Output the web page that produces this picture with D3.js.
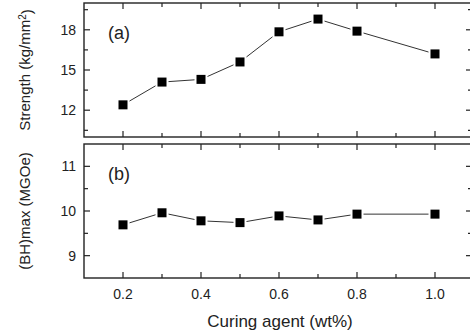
<!DOCTYPE html>
<html>
<head>
<meta charset="utf-8">
<script src="https://cdn.jsdelivr.net/npm/d3@7"></script>
<style>
  body { margin: 0; background: #fff; }
  svg { display: block; }
  text { font-family: "Liberation Sans", Arial, sans-serif; fill: #222; }
</style>
</head>
<body>
<svg id="chart" width="470" height="334"></svg>
<script>
// curing agent content (wt%)
let agent = [0.2, 0.3, 0.4, 0.5, 0.6, 0.7, 0.8, 1.0]
// panel (a): strength, kg/mm2
let strength = [12.4, 14.1, 14.3, 15.6, 17.85, 18.8, 17.9, 16.2]
// panel (b): (BH)max, MGOe
let bhmax = [9.69, 9.96, 9.78, 9.74, 9.89, 9.8, 9.93, 9.93]

let xTicks = [0.2, 0.3, 0.4, 0.5, 0.6, 0.7, 0.8, 0.9, 1.0]
let xLabels = [0.2, 0.4, 0.6, 0.8, 1.0]
let aTicks = [10.5, 12, 13.5, 15, 16.5, 18, 19.5]
let aLabels = [12, 15, 18]
let bTicks = [9, 9.5, 10, 10.5, 11]
let bLabels = [9, 10, 11]

const svg = d3.select("#chart")
const left = 84, right = 474

let x = d3.scaleLinear().domain([0.1, 1.1]).range([left, right])
let ya = d3.scaleLinear().domain([10, 20]).range([137, 3])
let yb = d3.scaleLinear().domain([8.5, 11.5]).range([278, 144])

function panel(y, values, ticks, labels, tag) {
  let [y0, y1] = y.range()
  let g = svg.append("g")

  // frame
  g.append("rect")
    .attr("x", left).attr("y", y1)
    .attr("width", right - left).attr("height", y0 - y1)
    .attr("fill", "none").attr("stroke", "#222").attr("stroke-width", 1.4)

  // x ticks top and bottom, pointing in
  xTicks.forEach(t => {
    let len = xLabels.includes(t) ? 6 : 4
    g.append("line").attr("x1", x(t)).attr("x2", x(t))
      .attr("y1", y0).attr("y2", y0 - len)
      .attr("stroke", "#222").attr("stroke-width", 1.2)
    g.append("line").attr("x1", x(t)).attr("x2", x(t))
      .attr("y1", y1).attr("y2", y1 + len)
      .attr("stroke", "#222").attr("stroke-width", 1.2)
  })

  // y ticks left and right, pointing in
  ticks.forEach(t => {
    let len = labels.includes(t) ? 6 : 4
    g.append("line").attr("x1", left).attr("x2", left + len)
      .attr("y1", y(t)).attr("y2", y(t))
      .attr("stroke", "#222").attr("stroke-width", 1.2)
    g.append("line").attr("x1", right).attr("x2", right - len - 2)
      .attr("y1", y(t)).attr("y2", y(t))
      .attr("stroke", "#222").attr("stroke-width", 1.2)
  })

  g.selectAll(".ylab").data(labels).enter()
    .append("text")
    .attr("x", left - 8).attr("y", d => y(d))
    .attr("dy", "0.36em")
    .attr("text-anchor", "end")
    .style("font-size", "14px")
    .text(d => d)

  let line = d3.line().x((d, i) => x(agent[i])).y(d => y(d))
  g.append("path").datum(values)
    .attr("d", line)
    .attr("fill", "none").attr("stroke", "#333").attr("stroke-width", 1)

  g.selectAll(".pt").data(values).enter()
    .append("rect")
    .attr("x", (d, i) => x(agent[i]) - 5.5)
    .attr("y", d => y(d) - 5.5)
    .attr("width", 11).attr("height", 11)
    .attr("fill", "#000").attr("stroke", "#fff").attr("stroke-width", 2)

  g.append("text")
    .attr("x", 108).attr("y", y1 + 36)
    .style("font-size", "18px")
    .text(tag)
}

panel(ya, strength, aTicks, aLabels, "(a)")
panel(yb, bhmax, bTicks, bLabels, "(b)")

// bottom x labels
svg.selectAll(".xlab").data(xLabels).enter()
  .append("text")
  .attr("x", d => x(d)).attr("y", 299)
  .attr("text-anchor", "middle")
  .style("font-size", "14px")
  .text(d => d3.format(".1f")(d))

svg.append("text")
  .attr("x", 280).attr("y", 327)
  .attr("text-anchor", "middle")
  .style("font-size", "17px")
  .text("Curing agent (wt%)")

let ta = svg.append("text")
  .attr("transform", "translate(30," + ((ya.range()[0] + ya.range()[1]) / 2) + ") rotate(-90)")
  .attr("text-anchor", "middle")
  .style("font-size", "15px")
ta.append("tspan").text("Strength (kg/mm")
ta.append("tspan").attr("dy", "-0.45em").style("font-size", "10px").text("2")
ta.append("tspan").attr("dy", "0.45em").text(")")

svg.append("text")
  .attr("transform", "translate(30," + ((yb.range()[0] + yb.range()[1]) / 2) + ") rotate(-90)")
  .attr("text-anchor", "middle")
  .style("font-size", "15px")
  .text("(BH)max (MGOe)")
</script>
</body>
</html>
